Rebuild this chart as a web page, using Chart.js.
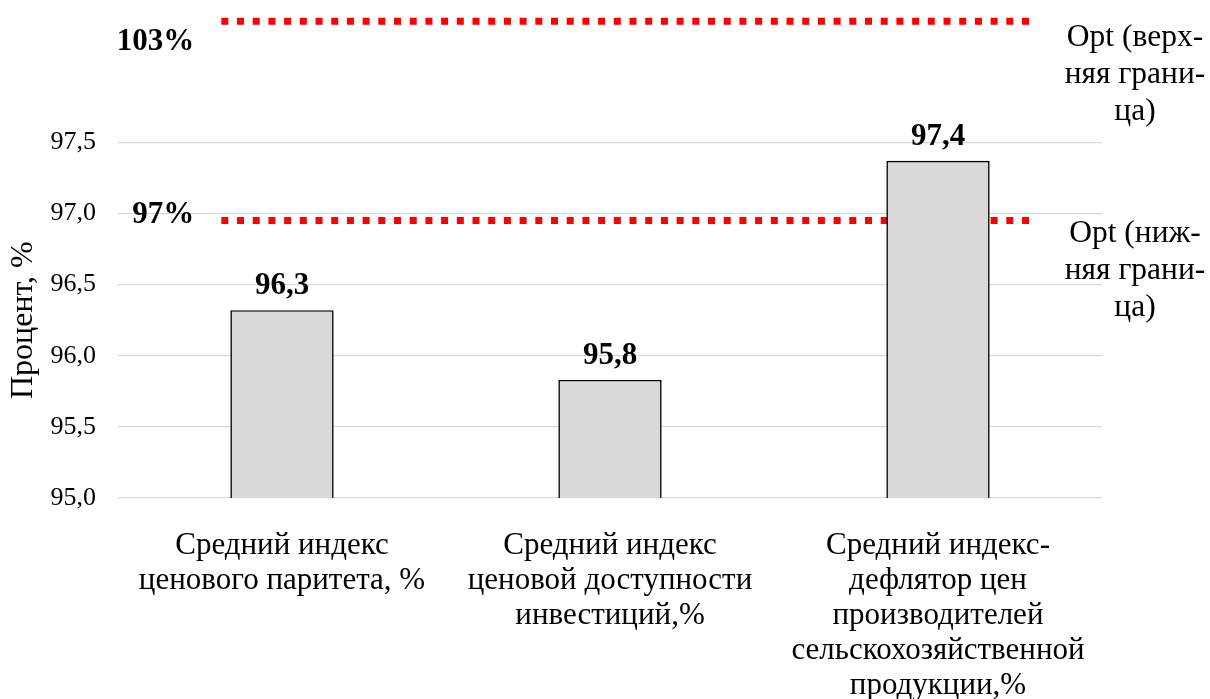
<!DOCTYPE html>
<html lang="ru">
<head>
<meta charset="utf-8">
<title>Индексы цен</title>
<script src="https://cdn.jsdelivr.net/npm/chart.js@4/dist/chart.umd.min.js"></script>
<style>
  html, body { margin: 0; padding: 0; background: #fff; }
  canvas { display: block; }
</style>
</head>
<body>
<canvas id="chart" width="1210" height="699"></canvas>
<script>
// --- данные ---
const categories = [
    ['Средний индекс', 'ценового паритета, %'],
    ['Средний индекс', 'ценовой доступности', 'инвестиций,%'],
    ['Средний индекс-', 'дефлятор цен', 'производителей', 'сельскохозяйственной', 'продукции,%']
];
const barValues = [96.32, 95.83, 97.37];

// границы оптимума (уровень на оси и подпись)
const boundLevels = [98.35, 96.95];
const boundLabels = ['103%', '97%'];
const boundNames = [
    ['Opt (верх-', 'няя грани-', 'ца)'],
    ['Opt (ниж-', 'няя грани-', 'ца)']
];
const boundSpan = [-0.185, 2.286];

const yTitle = 'Процент, %';
const yTickMin = 95, yTickMax = 97.5;
const FONT = "'Liberation Serif', 'Times New Roman', serif";

const fmt = v => v.toFixed(1).replace('.', ',');

// подписи над столбиками, у красных линий и заголовок оси
const labelsPlugin = {
    id: 'labelsPlugin',
    afterDatasetsDraw(chart) {
        const ctx = chart.ctx;
        const area = chart.chartArea;
        const yScale = chart.scales.y;
        ctx.save();
        ctx.fillStyle = '#000';

        // значения над столбиками
        const barMeta = chart.getDatasetMeta(0);
        ctx.font = 'bold 31px ' + FONT;
        ctx.textAlign = 'center';
        ctx.textBaseline = 'alphabetic';
        barMeta.data.forEach((bar, i) => {
            ctx.fillText(fmt(barValues[i]), bar.x, bar.y - 16);
        });

        // подписи границ
        const valOffsets = [28.5, 2.5];
        const nameOffsets = [16, 13];
        boundLevels.forEach((lvl, i) => {
            const p0 = chart.getDatasetMeta(i + 1).data[0];
            ctx.font = 'bold 31px ' + FONT;
            ctx.textAlign = 'right';
            ctx.textBaseline = 'alphabetic';
            ctx.fillText(boundLabels[i], p0.x - 27, p0.y + valOffsets[i]);

            ctx.font = '31.5px ' + FONT;
            ctx.textAlign = 'center';
            ctx.textBaseline = 'middle';
            boundNames[i].forEach((line, k) => {
                ctx.fillText(line, area.right + 33, p0.y + nameOffsets[i] + k * 37);
            });
        });

        // заголовок оси Y по центру области делений
        const midY = (yScale.getPixelForValue(yTickMin) + yScale.getPixelForValue(yTickMax)) / 2;
        ctx.translate(24, midY);
        ctx.rotate(-Math.PI / 2);
        ctx.font = '32px ' + FONT;
        ctx.textAlign = 'center';
        ctx.textBaseline = 'middle';
        ctx.fillText(yTitle, 0, 0);
        ctx.restore();
    }
};

const lineSets = boundLevels.map(lvl => ({
    type: 'line',
    xAxisID: 'x2',
    data: [{ x: boundSpan[0], y: lvl }, { x: boundSpan[1], y: lvl }],
    borderColor: '#ff0000',
    borderWidth: 7,
    borderDash: [7, 8.7],
    borderCapStyle: 'butt',
    pointRadius: 0,
    fill: false
}));

new Chart(document.getElementById('chart'), {
    type: 'bar',
    data: {
        labels: categories,
        datasets: [{
            data: barValues,
            backgroundColor: '#d9d9d9',
            borderColor: '#000',
            borderWidth: 1.6,
            borderSkipped: false,
            grouped: false,
            barPercentage: 0.315,
            categoryPercentage: 1
        }].concat(lineSets)
    },
    options: {
        responsive: false,
        animation: false,
        layout: { padding: { left: 4, right: 108, top: 0, bottom: 0 } },
        plugins: {
            legend: { display: false },
            tooltip: { enabled: false }
        },
        scales: {
            x: {
                grid: { display: false },
                border: { display: false },
                afterFit: s => { s.height = 201; },
                ticks: {
                    color: '#000',
                    padding: 22,
                    maxRotation: 0,
                    autoSkip: false,
                    font: { family: FONT, size: 31, lineHeight: 1.13 }
                }
            },
            x2: {
                type: 'linear',
                display: false,
                offset: false,
                min: -0.5,
                max: 2.5
            },
            y: {
                min: 95,
                max: 98.5,
                afterFit: s => { s.width = 114; s.paddingTop = 0; },
                grid: { color: '#d9d9d9', lineWidth: 1.3, drawTicks: false },
                border: { display: false },
                ticks: {
                    stepSize: 0.5,
                    color: '#000',
                    padding: 22,
                    font: { family: FONT, size: 26 },
                    callback: v => v > yTickMax + 1e-9 ? null : fmt(v)
                }
            }
        }
    },
    plugins: [labelsPlugin]
});
</script>
</body>
</html>
